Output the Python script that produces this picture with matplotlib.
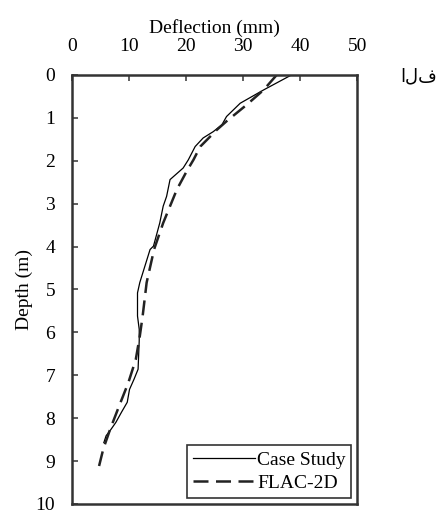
import matplotlib.pyplot as plt

plt.rcParams["font.family"] = ["Liberation Serif", "DejaVu Sans"]

# Case Study (measured)
case_depth = [0.0, 0.35, 0.66, 0.97, 1.16, 1.32, 1.47, 1.67, 1.98, 2.17, 2.44,
              2.83, 3.06, 3.45, 3.99, 4.07, 4.84, 5.08, 5.62, 5.93, 6.2, 6.86,
              7.09, 7.33, 7.63, 7.86, 8.1, 8.29, 8.41, 8.57]
case_defl = [38.5, 33.6, 29.5, 27.1, 26.3, 24.8, 23.0, 21.6, 20.4, 19.5, 17.2,
             16.6, 16.0, 15.4, 14.3, 13.7, 11.9, 11.5, 11.5, 11.8, 11.8, 11.6,
             10.9, 10.1, 9.7, 8.7, 7.7, 6.7, 6.0, 5.6]

# FLAC-2D (numerical)
flac_depth = [0.0, 0.35, 0.7, 1.08, 1.28, 1.67, 1.98, 2.25, 2.67, 3.06, 3.45,
              3.99, 4.07, 4.84, 5.62, 6.09, 6.63, 7.17, 7.71, 8.26, 8.72, 9.15]
flac_defl = [35.9, 33.6, 30.6, 27.1, 25.4, 22.5, 21.3, 20.1, 18.4, 17.2, 16.0,
             14.6, 14.4, 13.1, 12.4, 11.9, 11.2, 9.9, 8.3, 6.7, 5.5, 4.7]

fig = plt.figure(figsize=(4.41, 5.12), dpi=100)
ax = fig.add_axes([0.163, 0.0157, 0.647, 0.838])

ax.plot(case_defl, case_depth, color="black", lw=0.9, label="Case Study")
ax.plot(flac_defl, flac_depth, color="#222222", lw=1.8, dashes=(6, 3),
        label="FLAC-2D")

ax.set_xlim(0, 50)
ax.set_ylim(10, 0)
ax.set_xticks(range(0, 51, 10))
ax.set_yticks(range(0, 11))
ax.xaxis.tick_top()
ax.xaxis.set_label_position("top")
ax.tick_params(direction="in", length=4, width=1.2, labelsize=14,
               color="#444444")
ax.tick_params(axis="x", pad=14)
ax.tick_params(axis="y", pad=12)
ax.set_xlabel("Deflection (mm)", fontsize=14, labelpad=4)
ax.set_ylabel("Depth (m)", fontsize=14, labelpad=2)
for s in ax.spines.values():
    s.set_linewidth(1.8)
    s.set_color("#333333")

leg = ax.legend(loc="lower right", fontsize=14, frameon=True, fancybox=False,
                edgecolor="black", handlelength=3.2, borderaxespad=0.3,
                handletextpad=0.1, labelspacing=0.3, borderpad=0.3)
leg.get_frame().set_linewidth(1.2)

fig.text(0.95, 0.85, "الف", fontsize=13, ha="center", va="center",
         family=["DejaVu Sans"])

fig.savefig("out.png", dpi=100)
